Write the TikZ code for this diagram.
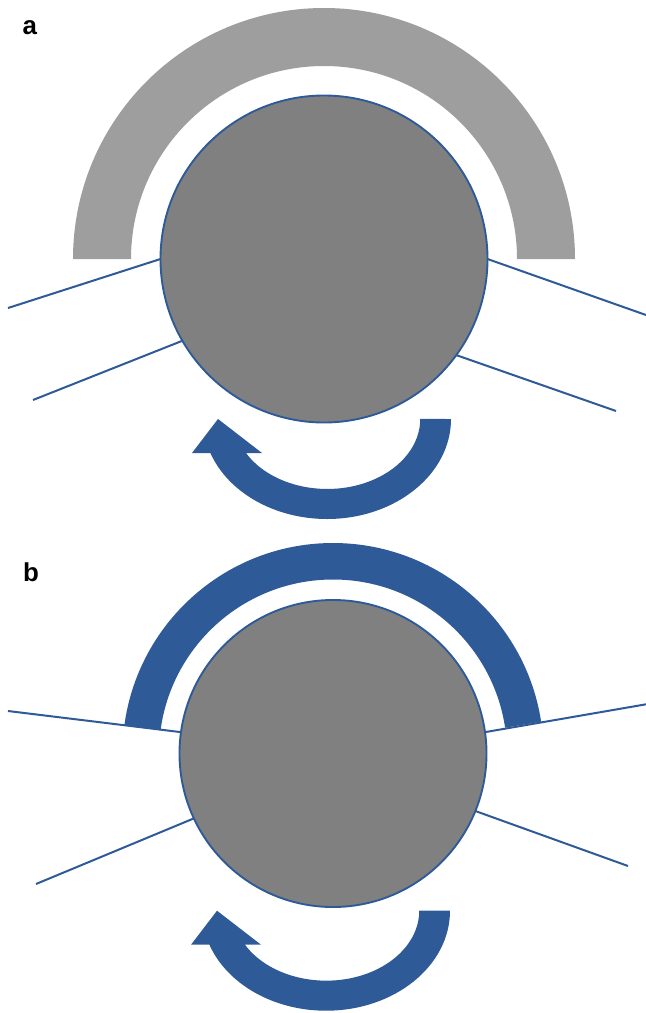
\documentclass[tikz,border=0pt]{standalone}
\usepackage{fontspec}
\setmainfont{Liberation Sans}
\definecolor{myblue}{HTML}{2E5A98}
\definecolor{lightgr}{HTML}{9D9E9D}
\definecolor{midgr}{HTML}{808080}
\begin{document}
\begin{tikzpicture}[x=1bp,y=-1bp,
  ball/.style={circle, draw=myblue, line width=1.9bp, fill=midgr, inner sep=0pt, outer sep=0pt},
  wire/.style={draw=myblue, line width=2bp},
  lbl/.style={anchor=base west, inner sep=0pt, font=\fontsize{26}{30}\selectfont\bfseries}]
\useasboundingbox (0,0) rectangle (646,1013);

% ---------------- panel a ----------------
\node[lbl] (la) at (22.5,34) {a};
\fill[lightgr] (73,259) arc[start angle=180,end angle=360,radius=251]
  -- (517,259) arc[start angle=360,end angle=180,radius=193] -- cycle;
\node[ball, minimum size=327bp] (ca) at (324,259) {};
\coordinate (a1) at (8,308);
\coordinate (a2) at (33,400);
\coordinate (a3) at (646,315);
\coordinate (a4) at (616,411);
\draw[wire] (a1) -- (ca.180);
\draw[wire] (a2) -- (ca.210.3);
\draw[wire] (ca.0) -- (a3);
\draw[wire] (ca.324.7) -- (a4);
\fill[myblue] (451,419) arc[start angle=0,end angle=160.1,x radius=124,y radius=100]
  -- (192,453) -- (218,419) -- (262,453) -- (246,453)
  arc[start angle=150.9,end angle=0,x radius=93,y radius=70] -- cycle;

% ---------------- panel b ----------------
\node[lbl] (lb) at (23,581) {b};
\begin{scope}
  \clip (0,710) -- (333,751.8) -- (333,756.3) -- (646,704.3) -- (646,500) -- (0,500) -- cycle;
  \fill[myblue, even odd rule] (333,753.5) circle (210.5) (333,753.5) circle (174);
\end{scope}
\node[ball, minimum size=307bp] (cb) at (333,753.5) {};
\coordinate (b1) at (8,711);
\coordinate (b2) at (36,884);
\coordinate (b3) at (646,704.3);
\coordinate (b4) at (628,866);
\draw[wire] (b1) -- (cb.172.1);
\draw[wire] (b2) -- (cb.205.1);
\draw[wire] (cb.8.6) -- (b3);
\draw[wire] (cb.338.75) -- (b4);
\begin{scope}[shift={(-1,491.7)}]
\fill[myblue] (451,419) arc[start angle=0,end angle=160.1,x radius=124,y radius=100]
  -- (192,453) -- (218,419) -- (262,453) -- (246,453)
  arc[start angle=150.9,end angle=0,x radius=93,y radius=70] -- cycle;
\end{scope}
\end{tikzpicture}
\end{document}
